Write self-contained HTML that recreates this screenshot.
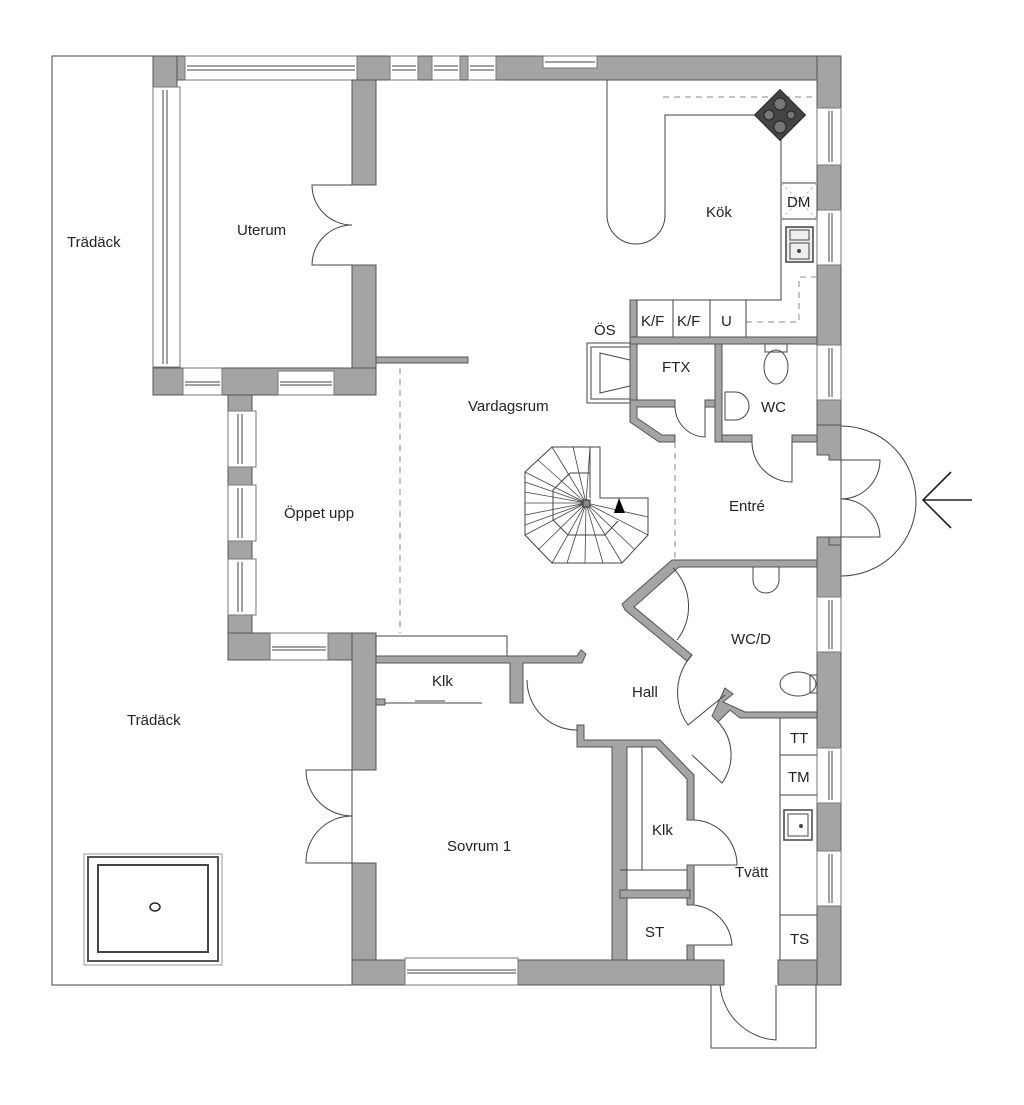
<!DOCTYPE html>
<html><head><meta charset="utf-8"><style>
html,body{margin:0;padding:0;background:#fff}
svg{display:block}
text{font-family:"Liberation Sans",sans-serif;font-size:15px;fill:#222}
.w{fill:#a4a4a4;stroke:#555;stroke-width:1}
.win{fill:#fff;stroke:#777;stroke-width:1}
.l{fill:none;stroke:#444;stroke-width:1}
.d{fill:none;stroke:#888;stroke-width:1;stroke-dasharray:6 5}
</style></head><body>
<svg width="1024" height="1105" viewBox="0 0 1024 1105" xmlns="http://www.w3.org/2000/svg">
<path class="l" d="M153 56 H52 V985 H352" stroke="#777"/>
<rect class="w" x="153" y="56" width="688" height="24"/>
<rect class="w" x="153" y="56" width="24" height="339"/>
<rect class="win" x="185" y="56" width="172" height="24"/><line class="l" x1="187" y1="66" x2="355" y2="66"/><line class="l" x1="187" y1="70" x2="355" y2="70"/>
<rect class="win" x="390" y="56" width="28" height="24"/><line class="l" x1="392" y1="66" x2="416" y2="66"/><line class="l" x1="392" y1="70" x2="416" y2="70"/>
<rect class="win" x="432" y="56" width="28" height="24"/><line class="l" x1="434" y1="66" x2="458" y2="66"/><line class="l" x1="434" y1="70" x2="458" y2="70"/>
<rect class="win" x="468" y="56" width="28" height="24"/><line class="l" x1="470" y1="66" x2="494" y2="66"/><line class="l" x1="470" y1="70" x2="494" y2="70"/>
<rect class="win" x="543" y="56" width="54" height="12"/><line class="l" x1="545" y1="62" x2="595" y2="62"/>
<rect class="win" x="153" y="87" width="27" height="280"/><line class="l" x1="163" y1="90" x2="163" y2="364"/><line class="l" x1="167" y1="90" x2="167" y2="364"/>
<rect class="w" x="352" y="80" width="24" height="105"/>
<rect class="w" x="352" y="265" width="24" height="130"/>
<rect class="w" x="376" y="357" width="92" height="6"/>
<path class="l" d="M352 185 H312 A40 40 0 0 0 352 225 A40 40 0 0 0 312 265 H352"/>
<rect class="w" x="153" y="368" width="223" height="27"/>
<rect class="win" x="183" y="368" width="39" height="27"/><line class="l" x1="185" y1="382" x2="220" y2="382"/><line class="l" x1="185" y1="385" x2="220" y2="385"/>
<rect class="win" x="278" y="371" width="56" height="24"/><line class="l" x1="280" y1="382" x2="332" y2="382"/><line class="l" x1="280" y1="385" x2="332" y2="385"/>
<rect class="w" x="228" y="395" width="24" height="265"/>
<rect class="win" x="228" y="411" width="28" height="56"/><line class="l" x1="238" y1="414" x2="238" y2="464"/><line class="l" x1="242" y1="414" x2="242" y2="464"/>
<rect class="win" x="228" y="485" width="28" height="56"/><line class="l" x1="238" y1="488" x2="238" y2="538"/><line class="l" x1="242" y1="488" x2="242" y2="538"/>
<rect class="win" x="228" y="559" width="28" height="56"/><line class="l" x1="238" y1="562" x2="238" y2="612"/><line class="l" x1="242" y1="562" x2="242" y2="612"/>
<rect class="w" x="228" y="633" width="148" height="27"/>
<rect class="win" x="270" y="633" width="58" height="27"/><line class="l" x1="272" y1="647" x2="326" y2="647"/><line class="l" x1="272" y1="650" x2="326" y2="650"/>
<line class="d" x1="400" y1="368" x2="400" y2="633"/>
<rect class="w" x="352" y="633" width="24" height="137"/>
<rect class="w" x="352" y="863" width="24" height="122"/>
<path class="l" d="M352 770 H306 A46 46 0 0 0 352 816 A46 46 0 0 0 306 863 H352"/>
<line class="l" x1="352" y1="770" x2="352" y2="863"/>
<rect class="w" x="352" y="960" width="372" height="25"/>
<rect class="win" x="405" y="958" width="113" height="27"/><line class="l" x1="407" y1="970" x2="516" y2="970"/><line class="l" x1="407" y1="973" x2="516" y2="973"/>
<rect class="w" x="778" y="960" width="63" height="25"/>
<path class="l" d="M711 985 V1048 H816 V985"/>
<path class="l" d="M776 985 V1040 A60 60 0 0 1 720 985" stroke="#777"/>
<rect class="w" x="817" y="56" width="24" height="399"/>
<rect class="w" x="817" y="537" width="24" height="448"/>
<path class="w" d="M817 455 H829 V460 H841 V425 H817Z" />
<path class="w" d="M817 537 H829 V545 H841 V537Z"/>
<g>
<rect class="win" x="817" y="108" width="24" height="57"/><line class="l" x1="829" y1="111" x2="829" y2="162"/><line class="l" x1="832" y1="111" x2="832" y2="162"/>
<rect class="win" x="817" y="210" width="24" height="55"/><line class="l" x1="829" y1="213" x2="829" y2="262"/><line class="l" x1="832" y1="213" x2="832" y2="262"/>
<rect class="win" x="817" y="345" width="24" height="55"/><line class="l" x1="829" y1="348" x2="829" y2="397"/><line class="l" x1="832" y1="348" x2="832" y2="397"/>
<rect class="win" x="817" y="597" width="24" height="55"/><line class="l" x1="829" y1="600" x2="829" y2="649"/><line class="l" x1="832" y1="600" x2="832" y2="649"/>
<rect class="win" x="817" y="748" width="24" height="55"/><line class="l" x1="829" y1="751" x2="829" y2="800"/><line class="l" x1="832" y1="751" x2="832" y2="800"/>
<rect class="win" x="817" y="851" width="24" height="55"/><line class="l" x1="829" y1="854" x2="829" y2="903"/><line class="l" x1="832" y1="854" x2="832" y2="903"/>
</g>
<line class="l" x1="841" y1="460" x2="841" y2="537"/>
<path class="l" d="M841 426 A75 75 0 0 1 841 576" stroke="#666"/>
<path class="l" d="M841 460 H880 A39 39 0 0 1 841 499 A39 39 0 0 1 880 537 H841"/>
<path d="M972 500 H923 M951 472 L923 500 L951 528" fill="none" stroke="#222" stroke-width="1.6"/>
<path class="l" d="M607 80 V215 A29 29 0 0 0 665 215 V115 H760"/>
<line class="d" x1="663" y1="97" x2="817" y2="97"/>
<path class="l" d="M781 133 V300 H632"/>
<g transform="translate(780,115) rotate(45)"><rect x="-18" y="-18" width="36" height="36" fill="#444" stroke="#222"/></g>
<circle cx="780" cy="104" r="6" fill="#777" stroke="#222"/><circle cx="769" cy="115" r="5" fill="#777" stroke="#222"/><circle cx="791" cy="115" r="4" fill="#777" stroke="#222"/><circle cx="780" cy="127" r="6" fill="#777" stroke="#222"/>
<rect class="l" x="781" y="183" width="36" height="36"/><path d="M781 183 L817 219 M817 183 L781 219" stroke="#bbb" stroke-dasharray="3 3"/>
<text x="787" y="207" font-size="14">DM</text>
<rect x="786" y="227" width="27" height="35" fill="#eee" stroke="#444" stroke-width="1.5"/><rect x="790" y="230" width="19" height="10" class="l"/><rect x="790" y="243" width="19" height="16" class="l"/><circle cx="799" cy="251" r="2" fill="#444"/>
<path class="d" d="M817 277 H799 V322 H746"/>
<rect class="w" x="630" y="300" width="7" height="45"/>
<path class="l" d="M637 300 V337 H817 M673 300 V337 M710 300 V337 M746 300 V337"/>
<rect class="w" x="630" y="337" width="187" height="7"/>
<text x="641" y="326">K/F</text><text x="677" y="326">K/F</text><text x="721" y="326">U</text>
<text x="594" y="335">ÖS</text>
<rect class="l" x="587" y="343" width="43" height="60" stroke="#999"/><rect class="l" x="591" y="347" width="39" height="52"/><path class="l" d="M600 353 L630 360 V386 L600 393Z"/>
<rect class="w" x="630" y="344" width="7" height="76"/>
<rect class="w" x="715" y="344" width="7" height="98"/>
<path class="w" d="M630 400 H675 V407 H637 V418 L662 435 H675 V442 H659 L630 422Z"/>
<rect class="w" x="705" y="400" width="10" height="7"/>
<path class="l" d="M675 407 A31 31 0 0 0 705 437 V407"/>
<text x="662" y="372">FTX</text>
<rect class="w" x="722" y="435" width="30" height="7"/><rect class="w" x="792" y="435" width="25" height="7"/>
<path class="l" d="M752 442 A40 40 0 0 0 792 482 V442"/>
<text x="761" y="412">WC</text>
<ellipse class="l" cx="776" cy="367" rx="12" ry="17"/><rect class="l" x="765" y="344" width="22" height="8"/>
<path class="l" d="M725 392 H735 A14 14 0 0 1 735 420 H725Z"/>
<line class="d" x1="675" y1="442" x2="675" y2="560"/>
<text x="729" y="511">Entré</text>
<path class="w" d="M675 560 H817 V567 H679 L634 607 L692 655 L687 661 L625 610 L622 604 L672 560Z"/>
<path class="l" d="M673 568 A55 55 0 0 1 677 640"/>
<path class="l" d="M753 567 V580 A13 13 0 0 0 779 580 V567"/>
<text x="731" y="644">WC/D</text>
<ellipse class="l" cx="798" cy="684" rx="18" ry="12"/><rect class="l" x="810" y="675" width="7" height="18"/>
<path class="w" d="M725 688 L733 694 L723 702 L745 712 H817 V718 H740 L730 710 L718 722 L712 716Z"/>
<path class="l" d="M692 655 A56 56 0 0 0 688 725 L725 695"/>
<path class="l" d="M718 722 A48 48 0 0 1 722 783 L692 755"/>
<path class="l" d="M780 718 V960 M780 755 H817 M780 795 H817 M780 915 H817"/>
<text x="790" y="743">TT</text><text x="788" y="782">TM</text><text x="790" y="944">TS</text>
<rect x="784" y="810" width="28" height="30" fill="#fff" stroke="#444" stroke-width="1.5"/><rect class="l" x="788" y="814" width="20" height="22"/><circle cx="801" cy="826" r="2" fill="#444"/>
<text x="735" y="877">Tvätt</text>
<rect class="l" x="376" y="636" width="131" height="20"/>
<path class="w" d="M376 656 H577 L581 650 L586 654 L582 663 H523 V703 H510 V663 H376Z"/>
<path class="w" d="M376 699 H385 V705 H376Z"/>
<path class="l" d="M385 703 H475 M415 701 H445 M442 703 H482" stroke="#666"/>
<text x="432" y="686">Klk</text>
<path class="w" d="M577 725 H584 V740 H660 L694 775 V820 H687 V779 L656 747 H627 V960 H612 V747 H577Z"/>
<path class="l" d="M527 680 A50 50 0 0 0 577 730" />
<text x="632" y="697">Hall</text>
<path class="l" d="M642 747 V870 M620 870 H687"/>
<text x="652" y="835">Klk</text>
<path class="l" d="M694 820 A45 45 0 0 1 737 865 H694"/>
<rect class="w" x="687" y="865" width="7" height="40"/>
<rect class="w" x="620" y="890" width="70" height="8"/>
<path class="l" d="M694 905 A43 43 0 0 1 732 945 H694"/>
<rect class="w" x="687" y="945" width="7" height="15"/>
<text x="645" y="937">ST</text>
<!-- stairs -->
<g stroke="#444" fill="none" stroke-width="1">
<path d="M552 447 H600 V498 H648 V535 L622 563 H552 L525 535 V472 Z"/>
<path d="M570 473 H590 M590 447 V498 M570 473 L553 490 V520 L568 535 H605 L618 521"/>
</g>
<g stroke="#444" stroke-width="0.8">
<line x1="586" y1="503" x2="552" y2="447"/><line x1="586" y1="503" x2="573" y2="447"/><line x1="586" y1="503" x2="590" y2="447"/>
<line x1="586" y1="503" x2="538" y2="460"/><line x1="586" y1="503" x2="525" y2="472"/><line x1="586" y1="503" x2="525" y2="482"/><line x1="586" y1="503" x2="525" y2="492"/><line x1="586" y1="503" x2="525" y2="503"/><line x1="586" y1="503" x2="525" y2="515"/><line x1="586" y1="503" x2="525" y2="525"/><line x1="586" y1="503" x2="525" y2="535"/><line x1="586" y1="503" x2="538" y2="550"/><line x1="586" y1="503" x2="552" y2="563"/><line x1="586" y1="503" x2="567" y2="563"/><line x1="586" y1="503" x2="585" y2="563"/><line x1="586" y1="503" x2="603" y2="563"/><line x1="586" y1="503" x2="622" y2="563"/><line x1="586" y1="503" x2="635" y2="550"/><line x1="586" y1="503" x2="648" y2="535"/><line x1="586" y1="503" x2="648" y2="517"/>
</g>
<rect x="583" y="500" width="7" height="7" fill="#888" stroke="#333"/>
<path d="M619 498 L614 513 L625 513Z" fill="#000"/>
<text x="468" y="411">Vardagsrum</text>
<text x="706" y="217">Kök</text>
<text x="237" y="235">Uterum</text>
<text x="67" y="247">Trädäck</text>
<text x="284" y="518">Öppet upp</text>
<text x="127" y="725">Trädäck</text>
<text x="447" y="851">Sovrum 1</text>
<rect x="84" y="854" width="138" height="111" fill="none" stroke="#999"/>
<rect x="88" y="857" width="130" height="104" fill="none" stroke="#555" stroke-width="2"/>
<rect x="98" y="865" width="110" height="87" fill="none" stroke="#444" stroke-width="2"/>
<ellipse cx="155" cy="907" rx="5" ry="4" fill="none" stroke="#222" stroke-width="1.5"/>
</svg>
</body></html>
